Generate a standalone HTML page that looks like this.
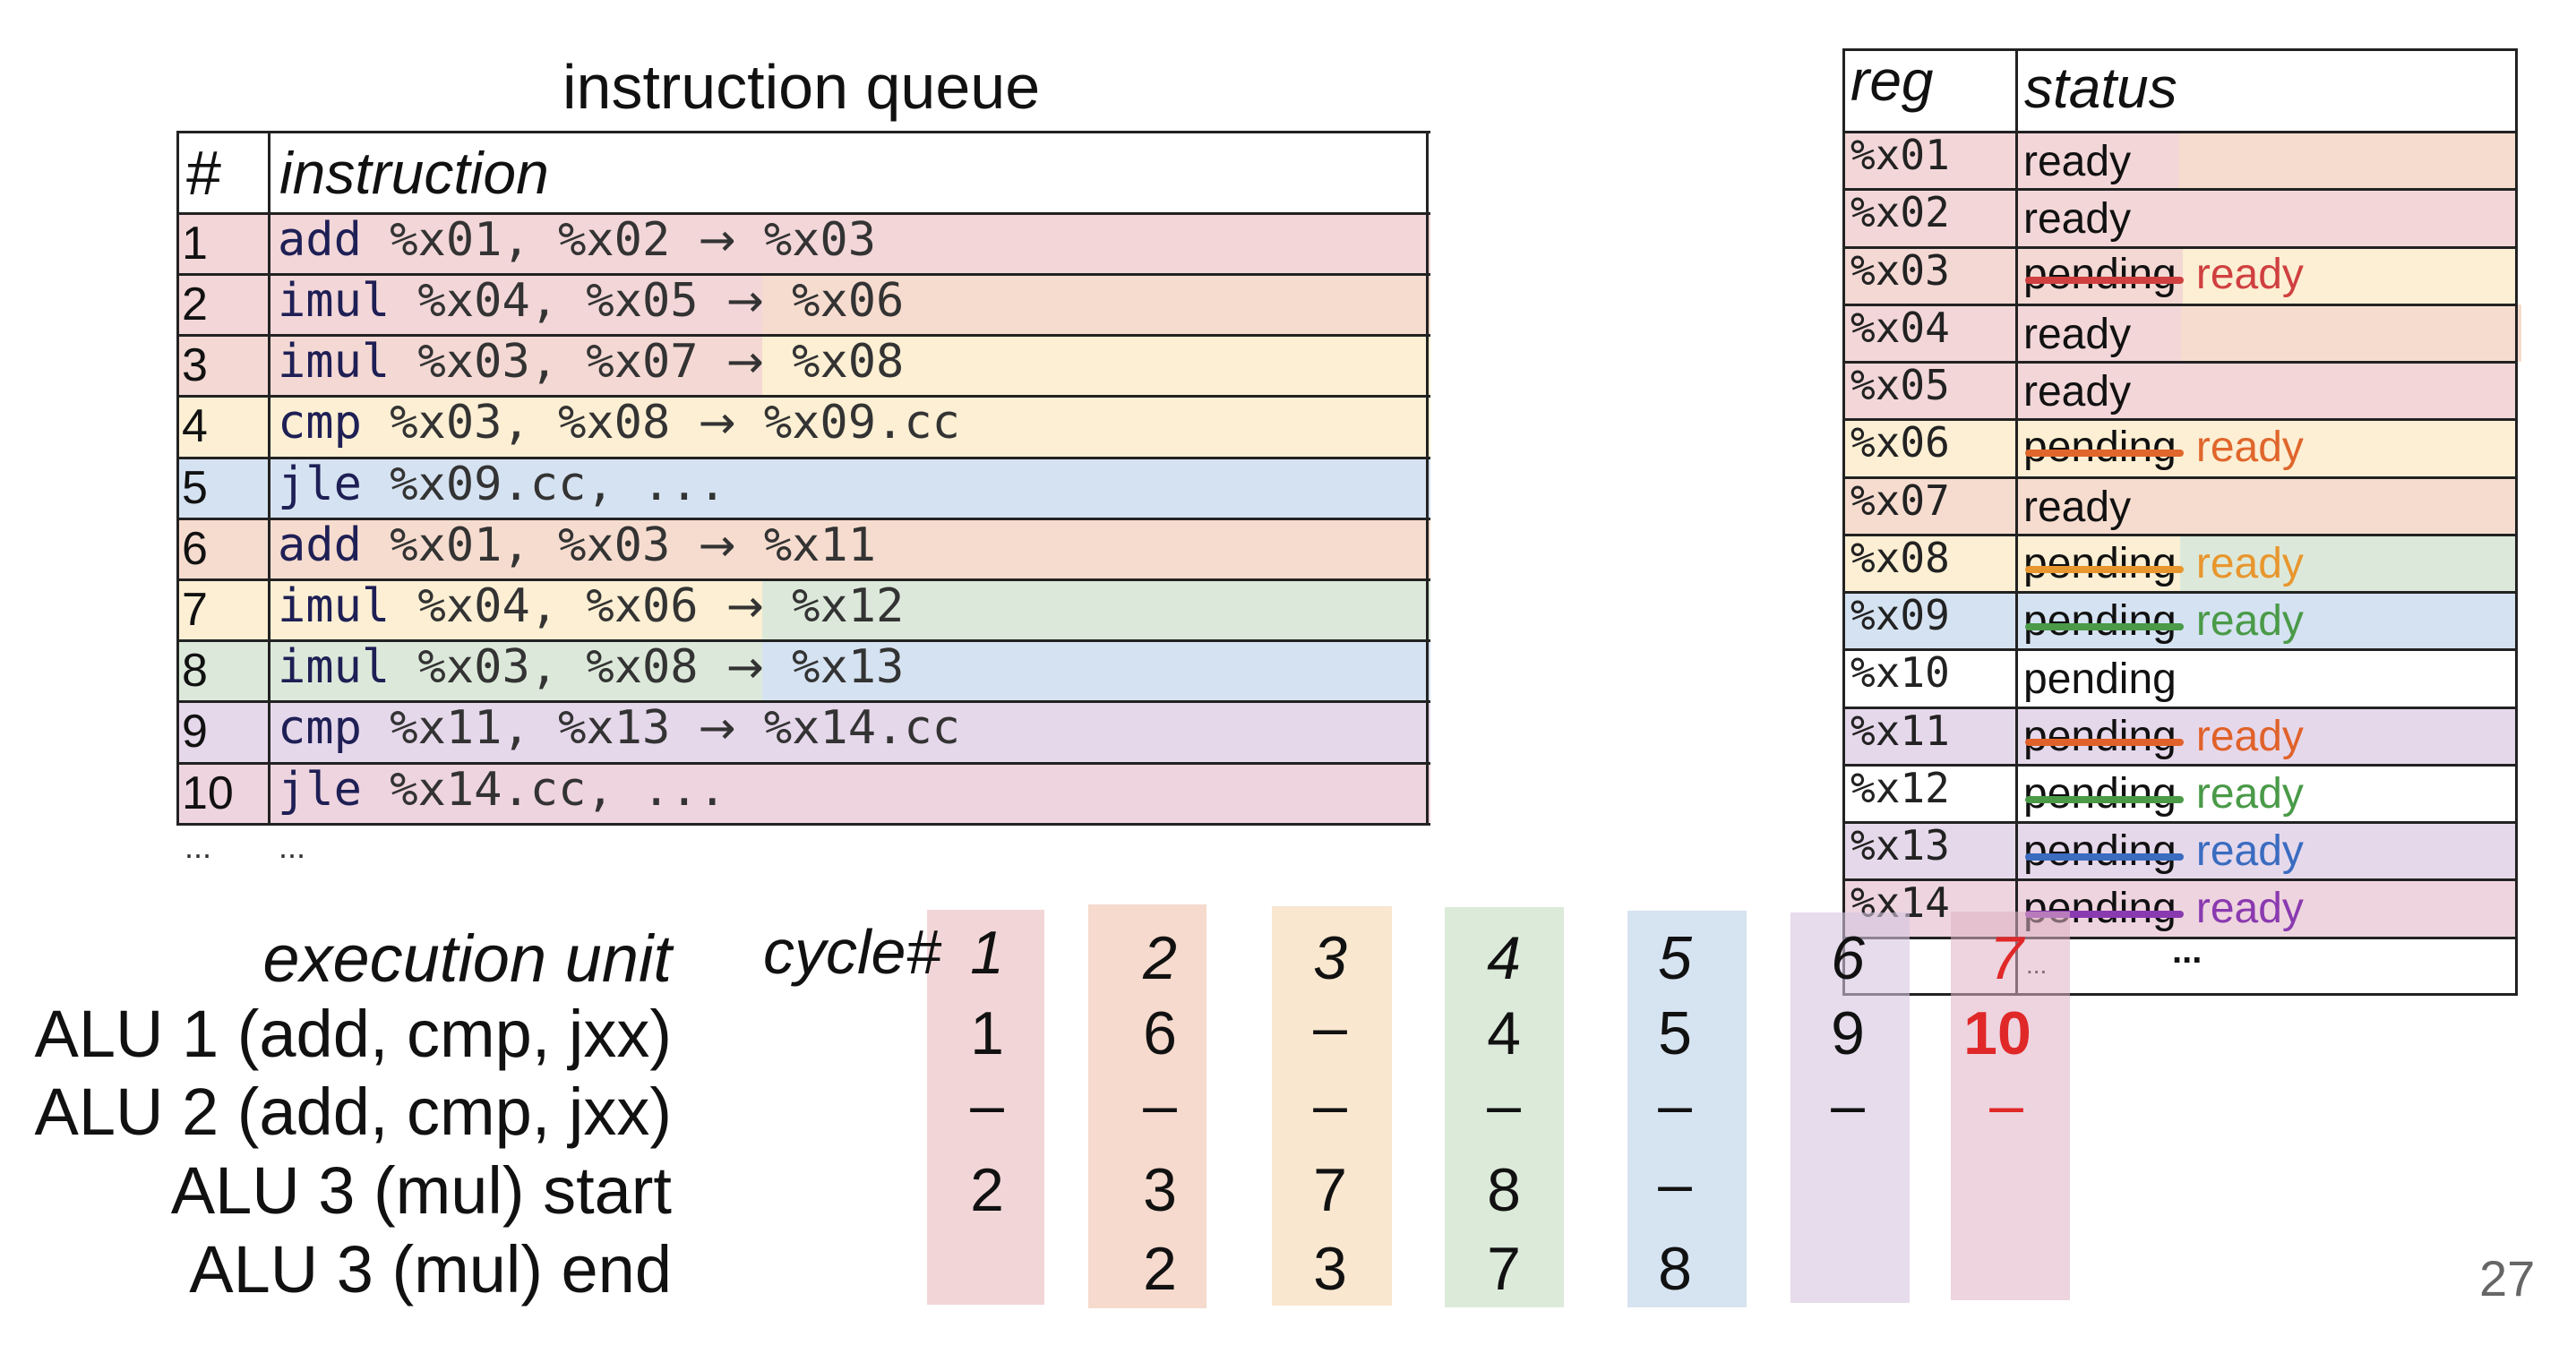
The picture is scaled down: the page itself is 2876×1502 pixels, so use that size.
<!DOCTYPE html>
<html><head><meta charset="utf-8"><style>
html,body{margin:0;padding:0;background:#fff}
body{width:2876px;height:1502px;position:relative;overflow:hidden;font-family:"Liberation Sans","DejaVu Sans",sans-serif;color:#111}
.a{position:absolute}
.bg{position:absolute}
.hl{position:absolute;background:#222;height:3px}
.vl{position:absolute;background:#222;width:3px}
.it{font-family:"Liberation Sans",sans-serif;font-style:italic}
.ins{position:absolute;left:310px;font-size:52px;white-space:pre;color:#333;font-family:"DejaVu Sans Mono","Liberation Mono",monospace;line-height:68px}
.ins b{font-weight:normal;color:#1e1f55}
.ins i{font-style:normal;font-family:"DejaVu Sans",sans-serif;font-size:50px}
.num{position:absolute;left:203px;font-size:52px;line-height:68px}
.rg{position:absolute;left:2066px;font-size:46px;font-family:"DejaVu Sans Mono",monospace;color:#222;line-height:1}
.st{position:absolute;left:2259px;font-size:48px;line-height:1;white-space:pre}
.pd{position:relative;display:inline-block}
.pd:after{content:"";position:absolute;left:2px;right:-8px;top:26px;height:8px;border-radius:4px;background:var(--c)}
.rd{margin-left:22px}
.band{position:absolute}
.lab{position:absolute;right:2126px;font-size:74px;white-space:nowrap;line-height:1}
.v{position:absolute;width:140px;text-align:center;font-size:68px;line-height:1}
</style></head><body>

<div class="a" style="left:628px;top:62px;font-size:70px;line-height:1">instruction queue</div>

<div class="bg" style="left:197px;top:238px;width:1400px;height:68px;background:#f2d6d8"></div>
<div class="bg" style="left:197px;top:306px;width:654px;height:68px;background:#f2d6d8"></div>
<div class="bg" style="left:851px;top:306px;width:746px;height:68px;background:#f6dccf"></div>
<div class="bg" style="left:197px;top:374px;width:654px;height:68px;background:#f4d8d3"></div>
<div class="bg" style="left:851px;top:374px;width:746px;height:68px;background:#fcefd3"></div>
<div class="bg" style="left:197px;top:442px;width:1400px;height:69px;background:#fcefd3"></div>
<div class="bg" style="left:197px;top:511px;width:1400px;height:68px;background:#d5e2f1"></div>
<div class="bg" style="left:197px;top:579px;width:1400px;height:68px;background:#f6dccf"></div>
<div class="bg" style="left:197px;top:647px;width:654px;height:68px;background:#fcefd3"></div>
<div class="bg" style="left:851px;top:647px;width:746px;height:68px;background:#dce9da"></div>
<div class="bg" style="left:197px;top:715px;width:654px;height:68px;background:#dce9da"></div>
<div class="bg" style="left:851px;top:715px;width:746px;height:68px;background:#d5e2f1"></div>
<div class="bg" style="left:197px;top:783px;width:1400px;height:69px;background:#e6d8eb"></div>
<div class="bg" style="left:197px;top:852px;width:1400px;height:68px;background:#eed4de"></div>
<div class="hl" style="left:197px;top:146px;width:1400px"></div>
<div class="hl" style="left:197px;top:237px;width:1400px"></div>
<div class="hl" style="left:197px;top:305px;width:1400px"></div>
<div class="hl" style="left:197px;top:373px;width:1400px"></div>
<div class="hl" style="left:197px;top:441px;width:1400px"></div>
<div class="hl" style="left:197px;top:510px;width:1400px"></div>
<div class="hl" style="left:197px;top:578px;width:1400px"></div>
<div class="hl" style="left:197px;top:646px;width:1400px"></div>
<div class="hl" style="left:197px;top:714px;width:1400px"></div>
<div class="hl" style="left:197px;top:782px;width:1400px"></div>
<div class="hl" style="left:197px;top:851px;width:1400px"></div>
<div class="hl" style="left:197px;top:919px;width:1400px"></div>
<div class="vl" style="left:197px;top:146px;height:776px"></div>
<div class="vl" style="left:299px;top:146px;height:776px"></div>
<div class="vl" style="left:1592px;top:146px;height:776px"></div>

<div class="a it" style="left:207px;top:158px;font-size:70px;line-height:1">#</div>
<div class="a it" style="left:312px;top:160px;font-size:66px;line-height:1">instruction</div>

<div class="num" style="top:238px">1</div>
<div class="num" style="top:306px">2</div>
<div class="num" style="top:374px">3</div>
<div class="num" style="top:442px">4</div>
<div class="num" style="top:511px">5</div>
<div class="num" style="top:579px">6</div>
<div class="num" style="top:647px">7</div>
<div class="num" style="top:715px">8</div>
<div class="num" style="top:783px">9</div>
<div class="num" style="top:852px">10</div>

<div class="ins" style="top:234px"><b>add</b> %x01, %x02 <i>→</i> %x03</div>
<div class="ins" style="top:302px"><b>imul</b> %x04, %x05 <i>→</i> %x06</div>
<div class="ins" style="top:370px"><b>imul</b> %x03, %x07 <i>→</i> %x08</div>
<div class="ins" style="top:438px"><b>cmp</b> %x03, %x08 <i>→</i> %x09.cc</div>
<div class="ins" style="top:507px"><b>jle</b> %x09.cc, ...</div>
<div class="ins" style="top:575px"><b>add</b> %x01, %x03 <i>→</i> %x11</div>
<div class="ins" style="top:643px"><b>imul</b> %x04, %x06 <i>→</i> %x12</div>
<div class="ins" style="top:711px"><b>imul</b> %x03, %x08 <i>→</i> %x13</div>
<div class="ins" style="top:779px"><b>cmp</b> %x11, %x13 <i>→</i> %x14.cc</div>
<div class="ins" style="top:848px"><b>jle</b> %x14.cc, ...</div>

<div class="a" style="left:206px;top:925px;font-size:36px;color:#333">...</div>
<div class="a" style="left:311px;top:925px;font-size:36px;color:#333">...</div>

<div class="bg" style="left:2057px;top:147px;width:375px;height:64px;background:#f2d6d8"></div>
<div class="bg" style="left:2432px;top:147px;width:377px;height:64px;background:#f6dccf"></div>
<div class="bg" style="left:2057px;top:211px;width:752px;height:65px;background:#f2d6d8"></div>
<div class="bg" style="left:2057px;top:276px;width:380px;height:64px;background:#f4d8d3"></div>
<div class="bg" style="left:2437px;top:276px;width:372px;height:64px;background:#fcefd3"></div>
<div class="bg" style="left:2057px;top:340px;width:378px;height:64px;background:#f2d6d8"></div>
<div class="bg" style="left:2435px;top:340px;width:380px;height:64px;background:#f6dccf"></div>
<div class="bg" style="left:2057px;top:404px;width:752px;height:64px;background:#f2d6d8"></div>
<div class="bg" style="left:2057px;top:468px;width:752px;height:65px;background:#fcefd3"></div>
<div class="bg" style="left:2057px;top:533px;width:752px;height:64px;background:#f6dccf"></div>
<div class="bg" style="left:2057px;top:597px;width:377px;height:64px;background:#fcefd3"></div>
<div class="bg" style="left:2434px;top:597px;width:375px;height:64px;background:#dce9da"></div>
<div class="bg" style="left:2057px;top:661px;width:752px;height:64px;background:#d5e2f1"></div>
<div class="bg" style="left:2057px;top:790px;width:752px;height:64px;background:#e6d8eb"></div>
<div class="bg" style="left:2057px;top:918px;width:752px;height:64px;background:#e6d8eb"></div>
<div class="bg" style="left:2057px;top:982px;width:752px;height:65px;background:#eed4de"></div>
<div class="hl" style="left:2057px;top:54px;width:754px"></div>
<div class="hl" style="left:2057px;top:146px;width:754px"></div>
<div class="hl" style="left:2057px;top:210px;width:754px"></div>
<div class="hl" style="left:2057px;top:275px;width:754px"></div>
<div class="hl" style="left:2057px;top:339px;width:754px"></div>
<div class="hl" style="left:2057px;top:403px;width:754px"></div>
<div class="hl" style="left:2057px;top:467px;width:754px"></div>
<div class="hl" style="left:2057px;top:532px;width:754px"></div>
<div class="hl" style="left:2057px;top:596px;width:754px"></div>
<div class="hl" style="left:2057px;top:660px;width:754px"></div>
<div class="hl" style="left:2057px;top:724px;width:754px"></div>
<div class="hl" style="left:2057px;top:789px;width:754px"></div>
<div class="hl" style="left:2057px;top:853px;width:754px"></div>
<div class="hl" style="left:2057px;top:917px;width:754px"></div>
<div class="hl" style="left:2057px;top:981px;width:754px"></div>
<div class="hl" style="left:2057px;top:1046px;width:754px"></div>
<div class="hl" style="left:2057px;top:1109px;width:754px"></div>
<div class="vl" style="left:2057px;top:54px;height:1058px"></div>
<div class="vl" style="left:2250px;top:54px;height:1058px"></div>
<div class="vl" style="left:2808px;top:54px;height:1058px"></div>

<div class="a it" style="left:2066px;top:58px;font-size:64px;line-height:1">reg</div>
<div class="a it" style="left:2260px;top:66px;font-size:64px;line-height:1">status</div>

<div class="rg" style="top:150px">%x01</div>
<div class="rg" style="top:214px">%x02</div>
<div class="rg" style="top:279px">%x03</div>
<div class="rg" style="top:343px">%x04</div>
<div class="rg" style="top:407px">%x05</div>
<div class="rg" style="top:471px">%x06</div>
<div class="rg" style="top:536px">%x07</div>
<div class="rg" style="top:600px">%x08</div>
<div class="rg" style="top:664px">%x09</div>
<div class="rg" style="top:728px">%x10</div>
<div class="rg" style="top:793px">%x11</div>
<div class="rg" style="top:857px">%x12</div>
<div class="rg" style="top:921px">%x13</div>
<div class="rg" style="top:985px">%x14</div>

<div class="st" style="top:157px">ready</div>
<div class="st" style="top:221px">ready</div>
<div class="st" style="top:283px"><span class="pd" style="--c:#d04040">pending</span><span class="rd" style="color:#d04040">ready</span></div>
<div class="st" style="top:350px">ready</div>
<div class="st" style="top:414px">ready</div>
<div class="st" style="top:476px"><span class="pd" style="--c:#e0662c">pending</span><span class="rd" style="color:#e0662c">ready</span></div>
<div class="st" style="top:543px">ready</div>
<div class="st" style="top:606px"><span class="pd" style="--c:#e8962e">pending</span><span class="rd" style="color:#e8962e">ready</span></div>
<div class="st" style="top:670px"><span class="pd" style="--c:#4a9a48">pending</span><span class="rd" style="color:#4a9a48">ready</span></div>
<div class="st" style="top:735px">pending</div>
<div class="st" style="top:799px"><span class="pd" style="--c:#e0622a">pending</span><span class="rd" style="color:#e0622a">ready</span></div>
<div class="st" style="top:863px"><span class="pd" style="--c:#4a9a48">pending</span><span class="rd" style="color:#4a9a48">ready</span></div>
<div class="st" style="top:927px"><span class="pd" style="--c:#3a6cc0">pending</span><span class="rd" style="color:#3a6cc0">ready</span></div>
<div class="st" style="top:991px"><span class="pd" style="--c:#8a3ab0">pending</span><span class="rd" style="color:#8a3ab0">ready</span></div>
<div class="a" style="left:2425px;top:1040px;font-size:40px;font-weight:bold">...</div>
<div class="a" style="left:2262px;top:1062px;font-size:28px">...</div>

<div class="band" style="left:1035px;top:1016px;width:131px;height:441px;background:rgba(240,208,210,0.88)"></div>
<div class="band" style="left:1215px;top:1010px;width:132px;height:451px;background:rgba(244,214,200,0.9)"></div>
<div class="band" style="left:1420px;top:1012px;width:134px;height:446px;background:rgba(248,228,202,0.9)"></div>
<div class="band" style="left:1613px;top:1013px;width:133px;height:447px;background:rgba(218,233,216,0.95)"></div>
<div class="band" style="left:1817px;top:1017px;width:133px;height:443px;background:rgba(212,225,240,0.95)"></div>
<div class="band" style="left:1999px;top:1019px;width:133px;height:436px;background:rgba(214,196,224,0.6)"></div>
<div class="band" style="left:2178px;top:1018px;width:133px;height:434px;background:rgba(222,176,196,0.55)"></div>

<div class="lab it" style="top:1034px">execution unit</div>
<div class="lab" style="top:1118px">ALU 1 (add, cmp, jxx)</div>
<div class="lab" style="top:1205px">ALU 2 (add, cmp, jxx)</div>
<div class="lab" style="top:1293px">ALU 3 (mul) start</div>
<div class="lab" style="top:1381px">ALU 3 (mul) end</div>
<div class="a it" style="left:852px;top:1028px;font-size:70px;line-height:1">cycle#</div>

<div class="v it" style="left:1032px;top:1030px">1</div>
<div class="v it" style="left:1225px;top:1036px">2</div>
<div class="v it" style="left:1415px;top:1036px">3</div>
<div class="v it" style="left:1609px;top:1036px">4</div>
<div class="v it" style="left:1800px;top:1036px">5</div>
<div class="v it" style="left:1993px;top:1036px">6</div>
<div class="v it" style="left:2170px;top:1036px;color:#e02828">7</div>

<div class="v" style="left:1032px;top:1120px">1</div>
<div class="v" style="left:1225px;top:1120px">6</div>
<div class="v" style="left:1415px;top:1113px">–</div>
<div class="v" style="left:1609px;top:1120px">4</div>
<div class="v" style="left:1800px;top:1120px">5</div>
<div class="v" style="left:1993px;top:1120px">9</div>
<div class="v" style="left:2160px;top:1120px;color:#e02828;font-weight:bold">10</div>

<div class="v" style="left:1032px;top:1200px">–</div>
<div class="v" style="left:1225px;top:1200px">–</div>
<div class="v" style="left:1415px;top:1200px">–</div>
<div class="v" style="left:1609px;top:1200px">–</div>
<div class="v" style="left:1800px;top:1200px">–</div>
<div class="v" style="left:1993px;top:1200px">–</div>
<div class="v" style="left:2170px;top:1200px;color:#e02828">–</div>

<div class="v" style="left:1032px;top:1295px">2</div>
<div class="v" style="left:1225px;top:1295px">3</div>
<div class="v" style="left:1415px;top:1295px">7</div>
<div class="v" style="left:1609px;top:1295px">8</div>
<div class="v" style="left:1800px;top:1288px">–</div>

<div class="v" style="left:1225px;top:1383px">2</div>
<div class="v" style="left:1415px;top:1383px">3</div>
<div class="v" style="left:1609px;top:1383px">7</div>
<div class="v" style="left:1800px;top:1383px">8</div>

<div class="a" style="left:2768px;top:1400px;font-size:56px;color:#666;line-height:1">27</div>
</body></html>
